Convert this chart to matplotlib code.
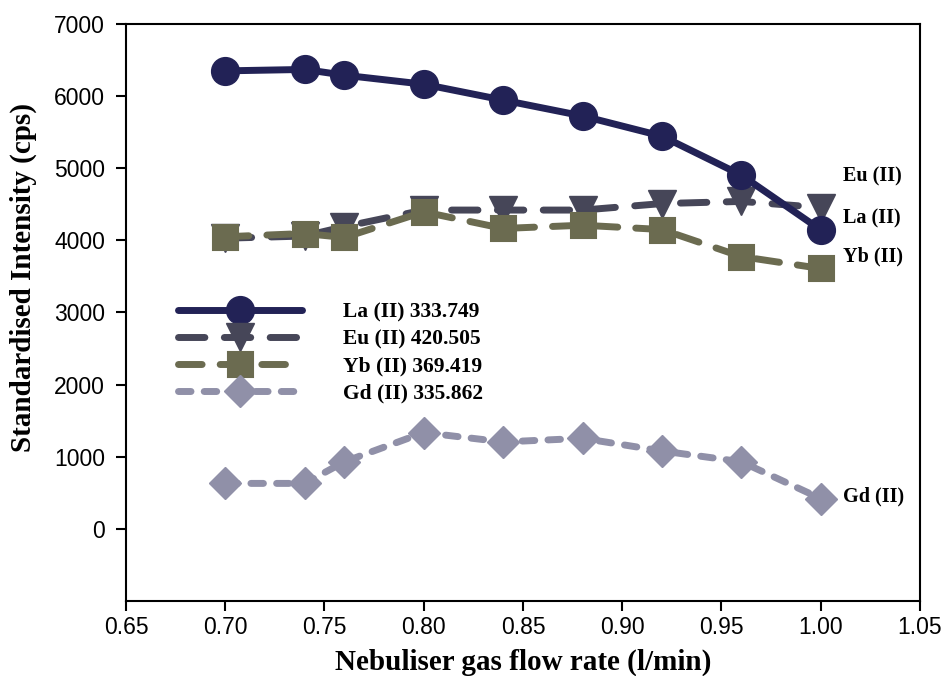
import matplotlib
matplotlib.use("Agg")
import matplotlib.pyplot as plt

# nebuliser gas flow rate (l/min)
flow = [0.70, 0.74, 0.76, 0.80, 0.84, 0.88, 0.92, 0.96, 1.00]

# standardised intensities (cps)
la = [6350, 6370, 6290, 6165, 5945, 5725, 5445, 4905, 4145]
eu = [4030, 4060, 4190, 4420, 4420, 4420, 4510, 4540, 4455]
yb = [4050, 4095, 4040, 4395, 4165, 4210, 4150, 3775, 3610]
gd = [630, 630, 930, 1335, 1205, 1255, 1080, 930, 420]

legend_labels = ['La (II) 333.749', 'Eu (II) 420.505', 'Yb (II) 369.419', 'Gd (II) 335.862']
end_labels = ['Eu (II)', 'La (II)', 'Yb (II)', 'Gd (II)']

serif = 'Liberation Serif'
sans = 'Liberation Sans'

fig = plt.figure(figsize=(9.43, 6.76), dpi=100)
ax = fig.add_axes([0.1336, 0.111, 0.842, 0.8535])

ax.plot(flow, la, color='#222256', lw=5, marker='o', ms=20,
        mec='#222256', mfc='#222256', solid_capstyle='round', zorder=5)
ax.plot(flow, eu, color='#464658', lw=5, ls=(0, (3.8, 2.8)), marker='v', ms=20,
        mec='#464658', mfc='#464658', dash_capstyle='round', zorder=4)
ax.plot(flow, yb, color='#6b6b50', lw=5, ls=(0, (3.4, 2.6)), marker='s', ms=18,
        mec='#6b6b50', mfc='#6b6b50', dash_capstyle='round', mew=1.5, zorder=4)
ax.plot(flow, gd, color='#9090a8', lw=5, ls=(0, (1.8, 1.9)), marker='D', ms=16,
        mec='#9090a8', mfc='#9090a8', dash_capstyle='round', zorder=4)

leg = ax.legend(ax.get_lines(), legend_labels, loc='upper left',
                bbox_to_anchor=(0.065, 0.518), frameon=False, borderpad=0,
                borderaxespad=0, handlelength=5.8, handletextpad=1.9,
                labelspacing=0.33, prop={'family': serif, 'weight': 'bold', 'size': 15.5})

# labels at the right-hand ends of the curves
end_x = 1.011
end_y = [4880, 4310, 3770, 455]
for lab, yy in zip(end_labels, end_y):
    ax.text(end_x, yy, lab, fontsize=14.5, family=serif, weight='bold', va='center', ha='left')

ax.set_xlim(0.65, 1.05)
ax.set_ylim(-1000, 7000)
ax.set_xticks([0.65, 0.70, 0.75, 0.80, 0.85, 0.90, 0.95, 1.00, 1.05])
ax.set_xticklabels(['%.2f' % v for v in ax.get_xticks()])
ax.set_yticks(range(0, 7001, 1000))
ax.tick_params(axis='both', direction='out', length=7, width=1.5, labelsize=16.5,
               top=False, right=False)
ax.tick_params(axis='y', pad=8)
ax.tick_params(axis='x', pad=4)
for lab in ax.get_xticklabels() + ax.get_yticklabels():
    lab.set_family(sans)
for sp in ax.spines.values():
    sp.set_linewidth(1.5)

ax.set_xlabel('Nebuliser gas flow rate (l/min)', family=serif, weight='bold', fontsize=21)
ax.set_ylabel('Standardised Intensity (cps)', family=serif, weight='bold', fontsize=21)
ax.xaxis.set_label_coords(0.5, -0.083)
ax.yaxis.set_label_coords(-0.112, 0.561)

plt.savefig('out.png', dpi=100)
